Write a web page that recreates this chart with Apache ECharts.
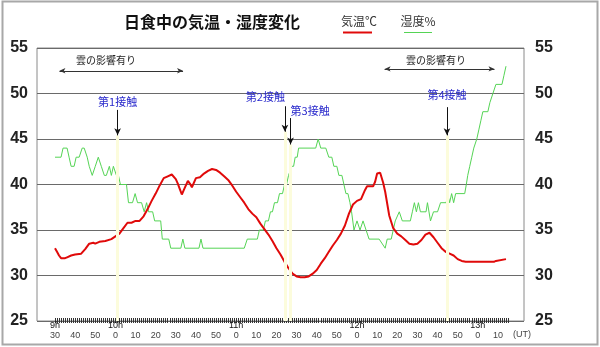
<!DOCTYPE html>
<html>
<head>
<meta charset="utf-8">
<script src="https://cdn.jsdelivr.net/npm/echarts@6/dist/echarts.min.js"></script>
<style>
  html, body { margin: 0; padding: 0; background: #fff; }
  #chart { width: 600px; height: 347px; }
</style>
</head>
<body>
<div id="chart"></div>
<script>
// Times are minutes after 9h30 UT.
const START_MIN = 9 * 60 + 30;
const X_MAX = 225;               // 13h15

// Air temperature (°C)
const tempTime = [0, 1, 2, 3, 5, 6, 8, 10, 13, 15, 17, 19, 20, 22, 25, 28, 30, 32, 34, 36, 38, 40, 42, 44, 46, 48, 50, 52, 54, 56, 58, 60, 61, 62, 63, 64, 66, 67, 68, 70, 72, 74, 76, 78, 80, 82, 84, 86, 88, 90, 92, 94, 96, 98, 100, 102, 104, 106, 108, 110, 112, 114, 116, 118, 120, 122, 124, 126, 128, 130, 132, 134, 136, 138, 140, 142, 144, 146, 148, 150, 152, 154, 155, 158, 159, 160, 161.5, 163, 164, 166, 168, 170, 172, 174, 176, 178, 180, 182, 184, 186, 188, 190, 192, 194, 196, 198, 200, 202, 204, 218, 219, 224];
const tempC = [33.0, 32.6, 32.2, 31.9, 31.9, 32.0, 32.2, 32.3, 32.4, 32.9, 33.5, 33.6, 33.5, 33.7, 33.8, 34.0, 34.3, 34.6, 35.2, 35.8, 35.8, 36.0, 36.0, 36.5, 37.3, 38.2, 39.0, 39.9, 40.7, 40.9, 41.1, 40.6, 40.1, 39.5, 38.9, 39.4, 40.4, 40.1, 39.7, 40.7, 40.8, 41.2, 41.5, 41.7, 41.6, 41.3, 40.9, 40.5, 39.9, 39.2, 38.6, 38.0, 37.3, 36.8, 36.4, 35.7, 35.1, 34.5, 33.8, 33.0, 32.3, 31.5, 30.8, 30.2, 29.9, 29.8, 29.8, 29.9, 30.2, 30.6, 31.3, 31.9, 32.6, 33.3, 33.9, 34.6, 35.5, 36.8, 37.8, 38.2, 38.4, 39.4, 39.8, 39.8, 40.3, 41.2, 41.3, 40.2, 39.2, 36.6, 35.2, 34.6, 34.3, 33.9, 33.5, 33.4, 33.5, 33.9, 34.5, 34.7, 34.2, 33.6, 33.0, 32.6, 32.4, 32.2, 31.8, 31.6, 31.5, 31.5, 31.6, 31.8];

// Relative humidity (%)
const humTime = [0, 3, 4, 6, 7, 8, 9.5, 10.5, 12, 13.5, 14.5, 16, 17, 18.5, 20, 21.5, 23, 24.5, 25.5, 27, 28, 29, 30.5, 31.5, 32.5, 35.5, 36.5, 38.5, 39.8, 41, 43, 44.3, 45.5, 46.5, 48.5, 49.5, 52.5, 53.3, 56.5, 57.5, 62.5, 63.5, 64.5, 71.5, 72.5, 73.5, 94, 95.5, 100.5, 101.5, 103.5, 104.5, 106, 107, 108, 109, 110.5, 111.5, 113, 114, 115, 116, 116.8, 117.5, 118.5, 119.3, 120.3, 121, 129.5, 130.7, 132, 134.5, 136, 137.5, 138.5, 140, 141, 142.5, 143.5, 144.5, 145.5, 146.5, 147.3, 148.5, 150, 151.5, 153, 154.5, 156, 161, 164, 165, 167, 168, 169, 171, 172.5, 176.5, 177.5, 178.5, 179.5, 180.5, 181.5, 184.3, 185, 186.5, 188, 190, 191.5, 194.3, 195, 196, 197, 198, 199, 203.5, 204.3, 205, 206, 207, 208, 209.5, 210.5, 211.5, 212.5, 215, 216, 217.5, 219, 222, 223, 224];
const humPct = [43, 43, 44, 44, 43, 42, 42, 43, 43, 44, 44, 43, 42, 41, 42, 43, 42, 41, 41, 42, 41, 42, 41, 41, 40, 40, 38, 38, 39, 38, 38, 37, 38, 37, 37, 36, 36, 34, 34, 33, 33, 34, 33, 33, 34, 33, 33, 34, 34, 35, 35, 36, 36, 37, 37, 38, 38, 39, 39, 40, 40, 41, 41, 42, 42, 43, 43, 44, 44, 45, 44, 44, 43, 43, 42, 42, 41, 41, 40, 39, 39, 38, 37, 35, 36, 35, 36, 35, 34, 34, 33, 34, 34, 35, 36, 37, 36, 36, 37, 38, 37, 38, 37, 37, 38, 36, 37, 37, 38, 38, 39, 38, 39, 38, 39, 39, 40, 41, 42, 43, 44, 45, 46, 47, 48, 48, 49, 50, 51, 51, 52, 53];

// Eclipse contacts: name, time, arrow top / arrow tip (on the value scale)
const contactName = ['第1接触', '第2接触', '第3接触', '第4接触'];
const contactTime = [31.1, 114.2, 117.0, 194.7];
const contactArrowTop = [48.2, 48.6, 47.3, 48.5];
const contactArrowTip = [45.4, 45.8, 44.4, 45.4];
const contactLabelAlign = ['center', 'right', 'left', 'center'];
const contactLabelGap = [3, 4, 2, 7];

// Periods affected by cloud
const cloudStart = [2.2, 163.7];
const cloudEnd = [63.6, 218.3];
const cloudLevel = [52.5, 52.7];

const yMin = 25, yMax = 55, yStep = 5;

const CJK = '"Noto Sans CJK JP", "Noto Sans CJK SC", sans-serif';
const LATIN = '"Liberation Sans", Arial, sans-serif';

const pair = (xs, ys) => xs.map((x, i) => [x, ys[i]]);

// Contact arrows and the faint vertical guide lines beneath them
const contactLines = [];
contactTime.forEach((t, i) => {
  contactLines.push([
    { coord: [t, contactArrowTip[i]], symbol: 'none',
      lineStyle: { color: '#fcfcdc', width: 3, type: 'solid' }, label: { show: false } },
    { coord: [t, yMin], symbol: 'none' }
  ]);
  contactLines.push([
    { coord: [t, contactArrowTop[i]], symbol: 'none',
      lineStyle: { color: '#111', width: 1, type: 'solid' },
      label: {
        show: true, position: 'start', formatter: contactName[i],
        color: '#2a2acc', fontSize: 11, fontFamily: CJK,
        align: contactLabelAlign[i], distance: contactLabelGap[i]
      } },
    { coord: [t, contactArrowTip[i]], symbol: 'arrow', symbolSize: [5, 7] }
  ]);
});
cloudStart.forEach((s, i) => {
  contactLines.push([
    { coord: [s, cloudLevel[i]], symbol: 'arrow', symbolSize: [4, 6],
      lineStyle: { color: '#333', width: 1, type: 'solid' }, label: { show: false } },
    { coord: [cloudEnd[i], cloudLevel[i]], symbol: 'arrow', symbolSize: [4, 6] }
  ]);
});

const chart = echarts.init(document.getElementById('chart'), null, { renderer: 'canvas' });

chart.setOption({
  animation: false,
  backgroundColor: '#fff',
  grid: [
    // frame with the value scale
    { left: 37, right: 76, top: 48, bottom: 26, show: true, borderColor: '#8a8a8a', borderWidth: 1, backgroundColor: 'transparent' },
    // time scale (9h30 – 13h15)
    { left: 55, right: 92, top: 48, bottom: 26, show: false }
  ],
  xAxis: [
    { gridIndex: 0, type: 'value', min: 0, max: 1, show: false },
    {
      gridIndex: 1, type: 'value', min: 0, max: X_MAX, interval: 5, offset: -3,
      axisLine: { show: false },
      axisTick: { show: true, length: 5, lineStyle: { color: '#333', width: 1 } },
      minorTick: { show: true, splitNumber: 5, length: 5, lineStyle: { color: '#333', width: 1 } },
      splitLine: { show: false },
      axisLabel: {
        margin: 3,
        formatter: v => {
          if (v % 10 !== 0) return '';
          const t = START_MIN + v, h = Math.floor(t / 60), m = t % 60;
          const top = (m === 0 || v === 0) ? h + 'h' : ' ';
          return '{h|' + top + '}\n{m|' + m + '}';
        },
        rich: {
          h: { fontSize: 9, lineHeight: 9, color: '#111', fontFamily: LATIN, align: 'center' },
          m: { fontSize: 9, lineHeight: 11, color: '#444', fontFamily: LATIN, align: 'center' }
        }
      }
    }
  ],
  yAxis: [
    {
      gridIndex: 0, type: 'value', position: 'left', min: yMin, max: yMax, interval: yStep,
      axisLine: { show: false }, axisTick: { show: false },
      splitLine: { show: true, lineStyle: { color: '#6a6a6a', width: 1 } },
      axisLabel: { margin: 9, fontSize: 16, fontWeight: 'bold', color: '#222', fontFamily: LATIN }
    },
    {
      gridIndex: 0, type: 'value', position: 'right', min: yMin, max: yMax, interval: yStep,
      axisLine: { show: false }, axisTick: { show: false }, splitLine: { show: false },
      axisLabel: { margin: 11, fontSize: 16, fontWeight: 'bold', color: '#222', fontFamily: LATIN }
    },
    { gridIndex: 1, type: 'value', min: yMin, max: yMax, show: false }
  ],
  series: [
    {
      name: '湿度%', type: 'line', xAxisIndex: 1, yAxisIndex: 2,
      data: pair(humTime, humPct), showSymbol: false, clip: false,
      lineStyle: { color: '#55d455', width: 1 },
      markLine: { silent: true, animation: false, data: contactLines }
    },
    {
      name: '気温℃', type: 'line', xAxisIndex: 1, yAxisIndex: 2,
      data: pair(tempTime, tempC), showSymbol: false, clip: false,
      lineStyle: { color: '#e00a0a', width: 2 }
    }
  ],
  graphic: [
    { type: 'rect', shape: { x: 2.5, y: 1.5, width: 595, height: 343 }, style: { fill: 'none', stroke: '#a8a8a8', lineWidth: 2 }, silent: true },
    { type: 'text', x: 212, y: 22, style: { text: '日食中の気温・湿度変化', font: 'bold 16px ' + CJK, fill: '#111', textAlign: 'center', textVerticalAlign: 'middle' } },
    { type: 'text', x: 359, y: 21, style: { text: '気温℃', font: '12px ' + CJK, fill: '#333', textAlign: 'center', textVerticalAlign: 'middle' } },
    { type: 'line', shape: { x1: 343, y1: 32.5, x2: 372, y2: 32.5 }, style: { stroke: '#e00a0a', lineWidth: 2 } },
    { type: 'text', x: 418, y: 21, style: { text: '湿度%', font: '12px ' + CJK, fill: '#333', textAlign: 'center', textVerticalAlign: 'middle' } },
    { type: 'line', shape: { x1: 404, y1: 32.5, x2: 432, y2: 32.5 }, style: { stroke: '#55d455', lineWidth: 1 } },
    { type: 'text', x: 106, y: 60, style: { text: '雲の影響有り', font: '10px ' + CJK, fill: '#222', textAlign: 'center', textVerticalAlign: 'middle' } },
    { type: 'text', x: 436, y: 60, style: { text: '雲の影響有り', font: '10px ' + CJK, fill: '#222', textAlign: 'center', textVerticalAlign: 'middle' } },
    { type: 'text', x: 522, y: 335, style: { text: '(UT)', font: '9px ' + LATIN, fill: '#444', textAlign: 'center', textVerticalAlign: 'middle' } }
  ]
});
</script>
</body>
</html>
